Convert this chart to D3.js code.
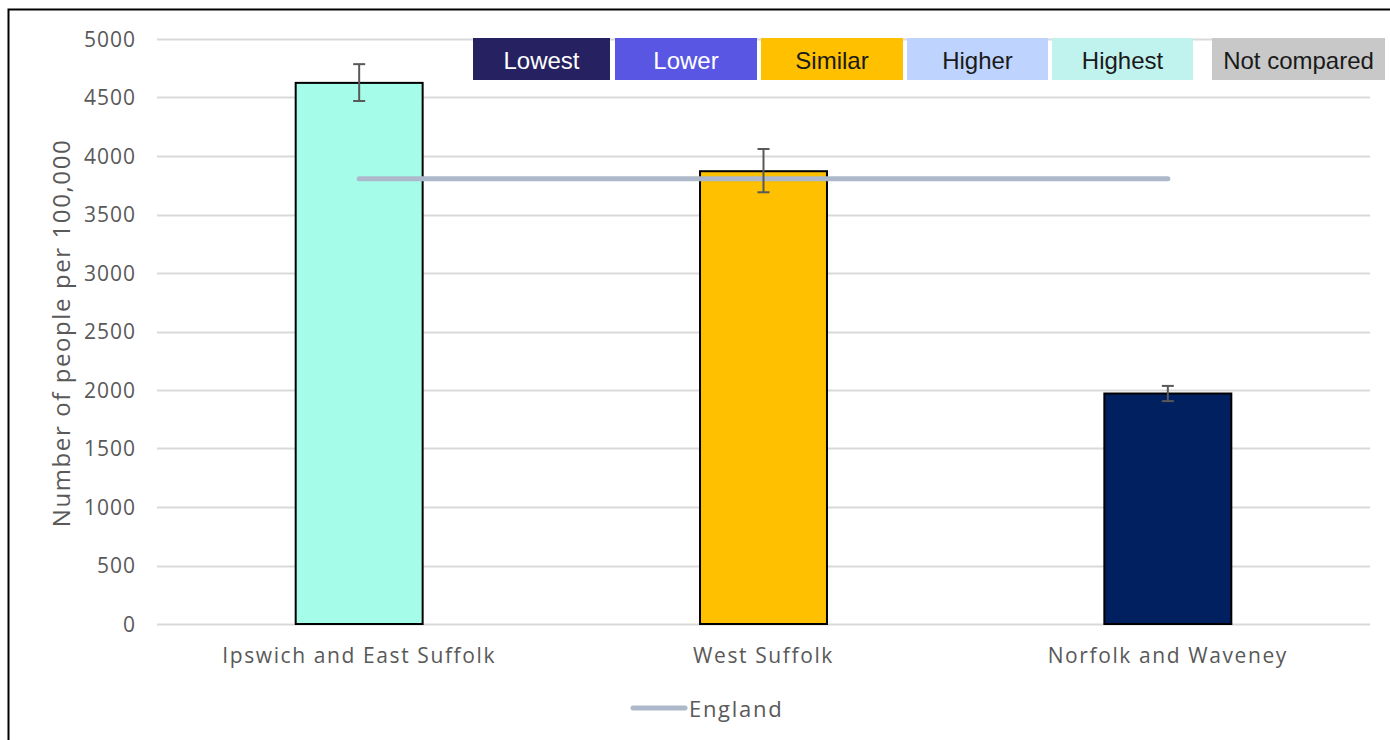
<!DOCTYPE html>
<html><head><meta charset="utf-8">
<script src="https://cdn.jsdelivr.net/npm/d3@7"></script>
<style>
html,body{margin:0;padding:0;background:#fff;}
svg{display:block;}
</style></head>
<body>
<script>
const categories = ["Ipswich and East Suffolk", "West Suffolk", "Norfolk and Waveney"];
const values = [4625, 3870, 1970];
const errLow = [4470, 3690, 1905];
const errHigh = [4785, 4060, 2035];
const barColors = ["#a5fde9", "#ffc000", "#002060"];
const englandValue = 3805;
const yTicks = [0, 500, 1000, 1500, 2000, 2500, 3000, 3500, 4000, 4500, 5000];
const legendLabels = ["Lowest", "Lower", "Similar", "Higher", "Highest", "Not compared"];
const legendColors = ["#262262", "#5856e2", "#ffc000", "#bed3fd", "#c0f2ee", "#c8c8c8"];
const legendText = ["#ffffff", "#ffffff", "#1a1a1a", "#1a1a1a", "#1a1a1a", "#1a1a1a"];

const W = 1390, H = 740;
const svg = d3.select("body").append("svg").attr("width", W).attr("height", H);

// frame
svg.append("path").attr("d", `M8.5,${H} V9.5 H${W}`).attr("fill","none").attr("stroke","#000").attr("stroke-width",2);

const x = d3.scaleBand().domain(categories).range([157, 1370]).paddingInner(0.686).paddingOuter(0.343);
const y = d3.scaleLinear().domain([0, 5000]).range([624, 39]);
const font = "'Open Sans', sans-serif";

// gridlines
svg.append("g").selectAll("line").data(yTicks).join("line")
  .attr("x1", 157).attr("x2", 1370)
  .attr("y1", d => Math.round(y(d)) + 0.5).attr("y2", d => Math.round(y(d)) + 0.5)
  .attr("stroke", "#d9d9d9").attr("stroke-width", 2);

// y axis
const yAxis = svg.append("g").attr("transform", "translate(136,0)")
  .call(d3.axisLeft(y).tickValues(yTicks).tickSize(0).tickPadding(0).tickFormat(d3.format("d")));
yAxis.select(".domain").remove();
yAxis.selectAll("text").attr("font-family", font).attr("font-size", 21).attr("fill", "#595959")
  .attr("letter-spacing", "1px").attr("dy", "0.35em");

// axis title
svg.append("text").attr("transform", "translate(60,333) rotate(-90)")
  .attr("text-anchor", "middle").attr("dominant-baseline", "central")
  .attr("font-family", font).attr("font-size", 24).attr("fill", "#595959")
  .attr("letter-spacing", "1.6px")
  .text("Number of people per 100,000");

// x axis labels
const xAxis = svg.append("g").attr("transform", "translate(0,624)")
  .call(d3.axisBottom(x).tickSize(0).tickPadding(24));
xAxis.select(".domain").remove();
xAxis.selectAll("text").attr("font-family", font).attr("font-size", 21).attr("fill", "#595959")
  .attr("letter-spacing", "1.6px");

// bars
svg.append("g").selectAll("rect").data(categories).join("rect")
  .attr("x", d => x(d)).attr("width", x.bandwidth())
  .attr("y", (d, i) => y(values[i])).attr("height", (d, i) => y(0) - y(values[i]))
  .attr("fill", (d, i) => barColors[i]).attr("stroke", "#000").attr("stroke-width", 2);

// England line
const cx = d => x(d) + x.bandwidth() / 2;
svg.append("line")
  .attr("x1", cx(categories[0])).attr("x2", cx(categories[2]))
  .attr("y1", y(englandValue)).attr("y2", y(englandValue))
  .attr("stroke", "#adb9ca").attr("stroke-width", 5).attr("stroke-linecap", "round");

// error bars
const eb = svg.append("g").attr("stroke", "#595959").attr("stroke-width", 2);
categories.forEach((c, i) => {
  const xc = cx(c);
  eb.append("line").attr("x1", xc).attr("x2", xc).attr("y1", y(errHigh[i])).attr("y2", y(errLow[i]));
  eb.append("line").attr("x1", xc - 6).attr("x2", xc + 6).attr("y1", y(errHigh[i])).attr("y2", y(errHigh[i]));
  eb.append("line").attr("x1", xc - 6).attr("x2", xc + 6).attr("y1", y(errLow[i])).attr("y2", y(errLow[i]));
});

// top legend
const boxX = [473, 615, 761, 907, 1052, 1212];
const boxW = [137, 142, 142, 141, 141, 173];
const lg = svg.append("g");
legendLabels.forEach((l, i) => {
  lg.append("rect").attr("x", boxX[i]).attr("y", 38).attr("width", boxW[i]).attr("height", 42).attr("fill", legendColors[i]);
  lg.append("text").attr("x", boxX[i] + boxW[i] / 2).attr("y", 60)
    .attr("text-anchor", "middle").attr("dominant-baseline", "central")
    .attr("font-family", "'Liberation Sans', Arial, sans-serif").attr("font-size", 24)
    .attr("fill", legendText[i]).text(l);
});

// bottom legend
svg.append("line").attr("x1", 633).attr("x2", 685).attr("y1", 708).attr("y2", 708)
  .attr("stroke", "#adb9ca").attr("stroke-width", 5).attr("stroke-linecap", "round");
svg.append("text").attr("x", 689).attr("y", 708).attr("dominant-baseline", "central")
  .attr("font-family", font).attr("font-size", 22).attr("fill", "#595959")
  .attr("letter-spacing", "1.7px").text("England");
</script>
</body></html>
